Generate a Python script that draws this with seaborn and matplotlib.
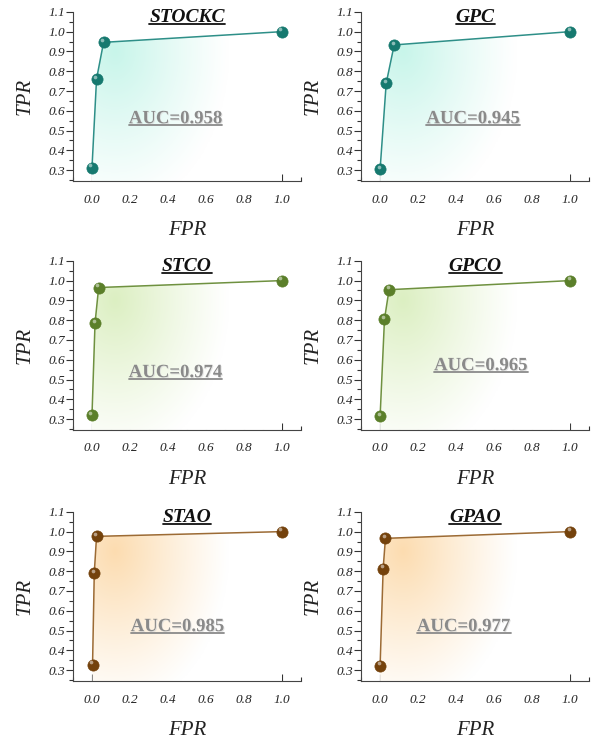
import numpy as np
import pandas as pd
import seaborn as sns
import matplotlib.pyplot as plt
from matplotlib.ticker import MultipleLocator
from matplotlib.patches import Polygon
from matplotlib.colors import to_rgb
import matplotlib.patheffects as pe

# ROC points
models = ['STOCKC', 'GPC', 'STCO', 'GPCO', 'STAO', 'GPAO']
fpr = [
    [0.0, 0.024, 0.061, 1.0],
    [0.0, 0.032, 0.074, 1.0],
    [0.0, 0.016, 0.035, 1.0],
    [0.0, 0.023, 0.047, 1.0],
    [0.003, 0.012, 0.024, 1.0],
    [0.0, 0.016, 0.028, 1.0],
]
tpr = [
    [0.312, 0.761, 0.946, 1.0],
    [0.305, 0.739, 0.933, 1.0],
    [0.319, 0.785, 0.965, 1.0],
    [0.314, 0.805, 0.954, 1.0],
    [0.328, 0.791, 0.976, 1.0],
    [0.322, 0.813, 0.966, 1.0],
]
auc = [0.958, 0.945, 0.974, 0.965, 0.985, 0.977]

line_colors = ['#2e8f88', '#2e8f88', '#6f9140', '#6f9140', '#9c6b35', '#9c6b35']
dot_colors = ['#16796f', '#16796f', '#5b7f2a', '#5b7f2a', '#74420c', '#74420c']
fill_colors = ['#c8f5ea', '#c8f5ea', '#dcefc2', '#dcefc2', '#fcdcb0', '#fcdcb0']
auc_pos = [(0.44, 0.56), (0.49, 0.56), (0.44, 0.535), (0.53, 0.57), (0.45, 0.52), (0.44, 0.52)]

sns.set_style('white')
plt.rcParams['font.family'] = ['Liberation Serif', 'DejaVu Serif']

fig = plt.figure(figsize=(5.92, 7.42), dpi=100)
lefts = [0.1233, 0.61]
bottoms = [0.756, 0.4205, 0.0822]
XMIN, XMAX, YMIN, YMAX = -0.1, 1.1, 0.245, 1.1

titles = []
aucs = []
for i, name in enumerate(models):
    r, c = divmod(i, 2)
    ax = fig.add_axes([lefts[c], bottoms[r], 0.385, 0.228])
    df = pd.DataFrame({'FPR': fpr[i], 'TPR': tpr[i]})

    # soft gradient under the curve
    nx, ny = 300, 200
    gx = np.linspace(XMIN, XMAX, nx)
    gy = np.linspace(YMIN, YMAX, ny)
    X, Y = np.meshgrid(gx, gy)
    d = np.sqrt(((X - 0.12) / 0.6) ** 2 + ((Y - 0.9) / 0.8) ** 2)
    a = np.clip(1 - d, 0, 1) ** 1.1
    rgb = np.array(to_rgb(fill_colors[i]))
    img = np.ones((ny, nx, 3)) * (1 - a[..., None]) + rgb * a[..., None]
    im = ax.imshow(img, extent=[XMIN, XMAX, YMIN, YMAX], origin='lower',
                   aspect='auto', zorder=1)
    poly = Polygon(list(zip(fpr[i], tpr[i])) + [(1.0, YMIN), (fpr[i][0], YMIN)],
                   closed=True, facecolor='none', edgecolor='none')
    ax.add_patch(poly)
    im.set_clip_path(poly)

    sns.lineplot(data=df, x='FPR', y='TPR', ax=ax, color=line_colors[i],
                 linewidth=1.1, sort=False, zorder=3)
    sns.scatterplot(data=df, x='FPR', y='TPR', ax=ax, color=dot_colors[i],
                    s=65, edgecolor=dot_colors[i], linewidth=0.5, zorder=4)
    # little highlight on each ball
    ax.scatter(df['FPR'] - 0.008, df['TPR'] + 0.012, s=7, color='white',
               alpha=0.5, linewidth=0, zorder=5)

    ax.set_xlim(XMIN, XMAX)
    ax.set_ylim(YMIN, YMAX)
    ax.set_xticks(np.arange(0, 1.01, 0.2))
    ax.set_yticks(np.arange(0.3, 1.11, 0.1))
    ax.xaxis.set_minor_locator(MultipleLocator(0.1))
    ax.yaxis.set_minor_locator(MultipleLocator(0.05))
    ax.set_xticklabels([f'{v:.1f}' for v in np.arange(0, 1.01, 0.2)])
    ax.set_yticklabels([f'{v:.1f}' for v in np.arange(0.3, 1.11, 0.1)])
    ax.tick_params(axis='x', which='major', direction='in', length=5, width=0.8,
                   pad=9, labelsize=9.5, colors='#333333')
    ax.tick_params(axis='x', which='minor', direction='in', length=3, width=0.8,
                   colors='#333333')
    ax.tick_params(axis='y', which='major', direction='out', length=5, width=0.8,
                   pad=1, labelsize=9.5, colors='#333333')
    ax.tick_params(axis='y', which='minor', direction='out', length=3, width=0.8,
                   colors='#333333')
    ax.xaxis.set_tick_params(which='both', bottom=True)
    ax.yaxis.set_tick_params(which='both', left=True)
    for lab in ax.get_xticklabels() + ax.get_yticklabels():
        lab.set_fontstyle('italic')
        lab.set_color('#222222')
    sns.despine(ax=ax)
    for s in ['left', 'bottom']:
        ax.spines[s].set_color('#444444')
        ax.spines[s].set_linewidth(0.8)
    ax.set_facecolor('none')

    ax.set_xlabel('FPR', fontsize=15, fontstyle='italic', labelpad=11, color='#222222')
    ax.set_ylabel('TPR', fontsize=15, fontstyle='italic', labelpad=10, color='#222222')

    t = ax.text(0.5, 0.965, name, transform=ax.transAxes, ha='center', va='center',
                fontsize=14, fontweight='bold', fontstyle='italic', color='#111111',
                zorder=6)
    titles.append((ax, t, '#111111'))
    ax_ = ax.text(auc_pos[i][0], auc_pos[i][1], f'AUC={auc[i]:.3f}', ha='center',
                  va='center', fontsize=13.5, fontweight='bold', color='#8a8a8a',
                  zorder=6,
                  path_effects=[pe.withSimplePatchShadow(offset=(0.7, -0.7),
                                                         shadow_rgbFace='#dadada',
                                                         alpha=0.7)])
    aucs.append((ax, ax_, '#8a8a8a'))

# underline the titles and AUC labels
fig.canvas.draw()
renderer = fig.canvas.get_renderer()
inv = fig.transFigure.inverted()
for ax, t, col in titles + aucs:
    bb = t.get_window_extent(renderer)
    (x0, y0), (x1, y1) = inv.transform([(bb.x0, bb.y0 + 2), (bb.x1, bb.y0 + 2)])
    fig.add_artist(plt.Line2D([x0, x1], [y0, y1], color=col, linewidth=1.3,
                              transform=fig.transFigure))

fig.savefig('out.png', dpi=100)
